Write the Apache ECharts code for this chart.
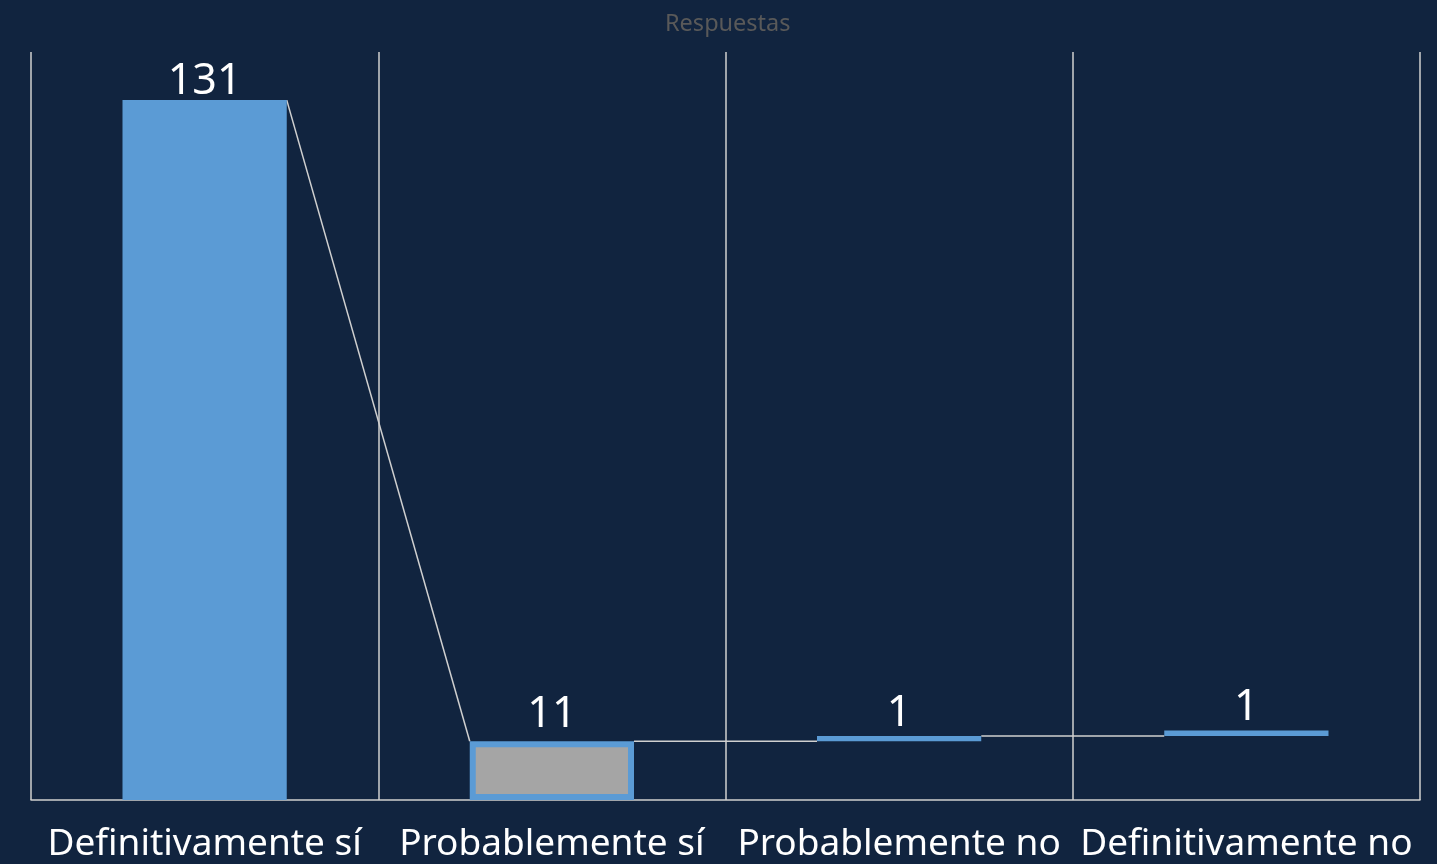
<!DOCTYPE html>
<html>
<head>
<meta charset="utf-8">
<script src="https://cdn.jsdelivr.net/npm/echarts@6/dist/echarts.min.js"></script>
<style>
html,body{margin:0;padding:0;background:#11243f;}
#c{width:1437px;height:864px;}
</style>
</head>
<body>
<div id="c"></div>
<script>
const categories = ['Definitivamente sí', 'Probablemente sí', 'Probablemente no', 'Definitivamente no'];
const values = [131, 11, 1, 1];
const bases = [0, 0, 11, 12];
const linkFrom = [131, 11, 12];
const linkTo = [11, 11, 12];

const BLUE = '#5b9bd5';
const GRID = '#d0d0d0';
const BAR_FRAC = 0.473;
const LABEL_DIST = [-3, 5, 1, 1];

const chart = echarts.init(document.getElementById('c'));
chart.setOption({
  backgroundColor: '#11243f',
  animation: false,
  title: {
    text: 'Respuestas', left: 660, top: 7,
    textStyle: { color: '#595959', fontSize: 23.5, fontWeight: 'normal', fontFamily: 'Noto Sans' }
  },
  grid: { left: 31, right: 17, top: 52, bottom: 64, outerBoundsMode: 'none', containLabel: false },
  xAxis: {
    type: 'category', data: categories,
    axisLine: { show: true, lineStyle: { color: GRID, width: 1.5 } },
    axisTick: { show: false },
    splitLine: { show: true, lineStyle: { color: GRID, width: 1.5 } },
    axisLabel: { color: '#ffffff', fontSize: 37, fontFamily: 'Noto Sans', margin: 26, interval: 0, hideOverlap: false }
  },
  yAxis: { type: 'value', min: 0, max: 140, show: false, splitLine: { show: false } },
  series: [
    {
      type: 'bar', stack: 's', data: bases, barWidth: (BAR_FRAC * 100) + '%',
      itemStyle: { color: 'transparent' }, silent: true
    },
    {
      type: 'bar', stack: 's', barWidth: (BAR_FRAC * 100) + '%',
      data: values.map((v, i) => ({
        value: v,
        itemStyle: i === 1
          ? { color: '#a5a5a5', borderColor: BLUE, borderWidth: 6 }
          : { color: BLUE },
        label: { distance: LABEL_DIST[i] }
      })),
      label: {
        show: true, position: 'top', color: '#ffffff',
        fontSize: 43, fontFamily: 'Noto Sans'
      }
    },
    {
      type: 'custom', clip: false, z: 1,
      data: linkFrom.map((f, i) => [i, f, linkTo[i]]),
      renderItem: function (params, api) {
        const i = api.value(0);
        const half = api.size([1, 0])[0] * BAR_FRAC / 2;
        const p1 = api.coord([i, api.value(1)]);
        const p2 = api.coord([i + 1, api.value(2)]);
        return {
          type: 'line',
          shape: { x1: p1[0] + half, y1: p1[1], x2: p2[0] - half, y2: p2[1] },
          style: { stroke: GRID, lineWidth: 1.5 }
        };
      }
    }
  ]
});
</script>
</body>
</html>
